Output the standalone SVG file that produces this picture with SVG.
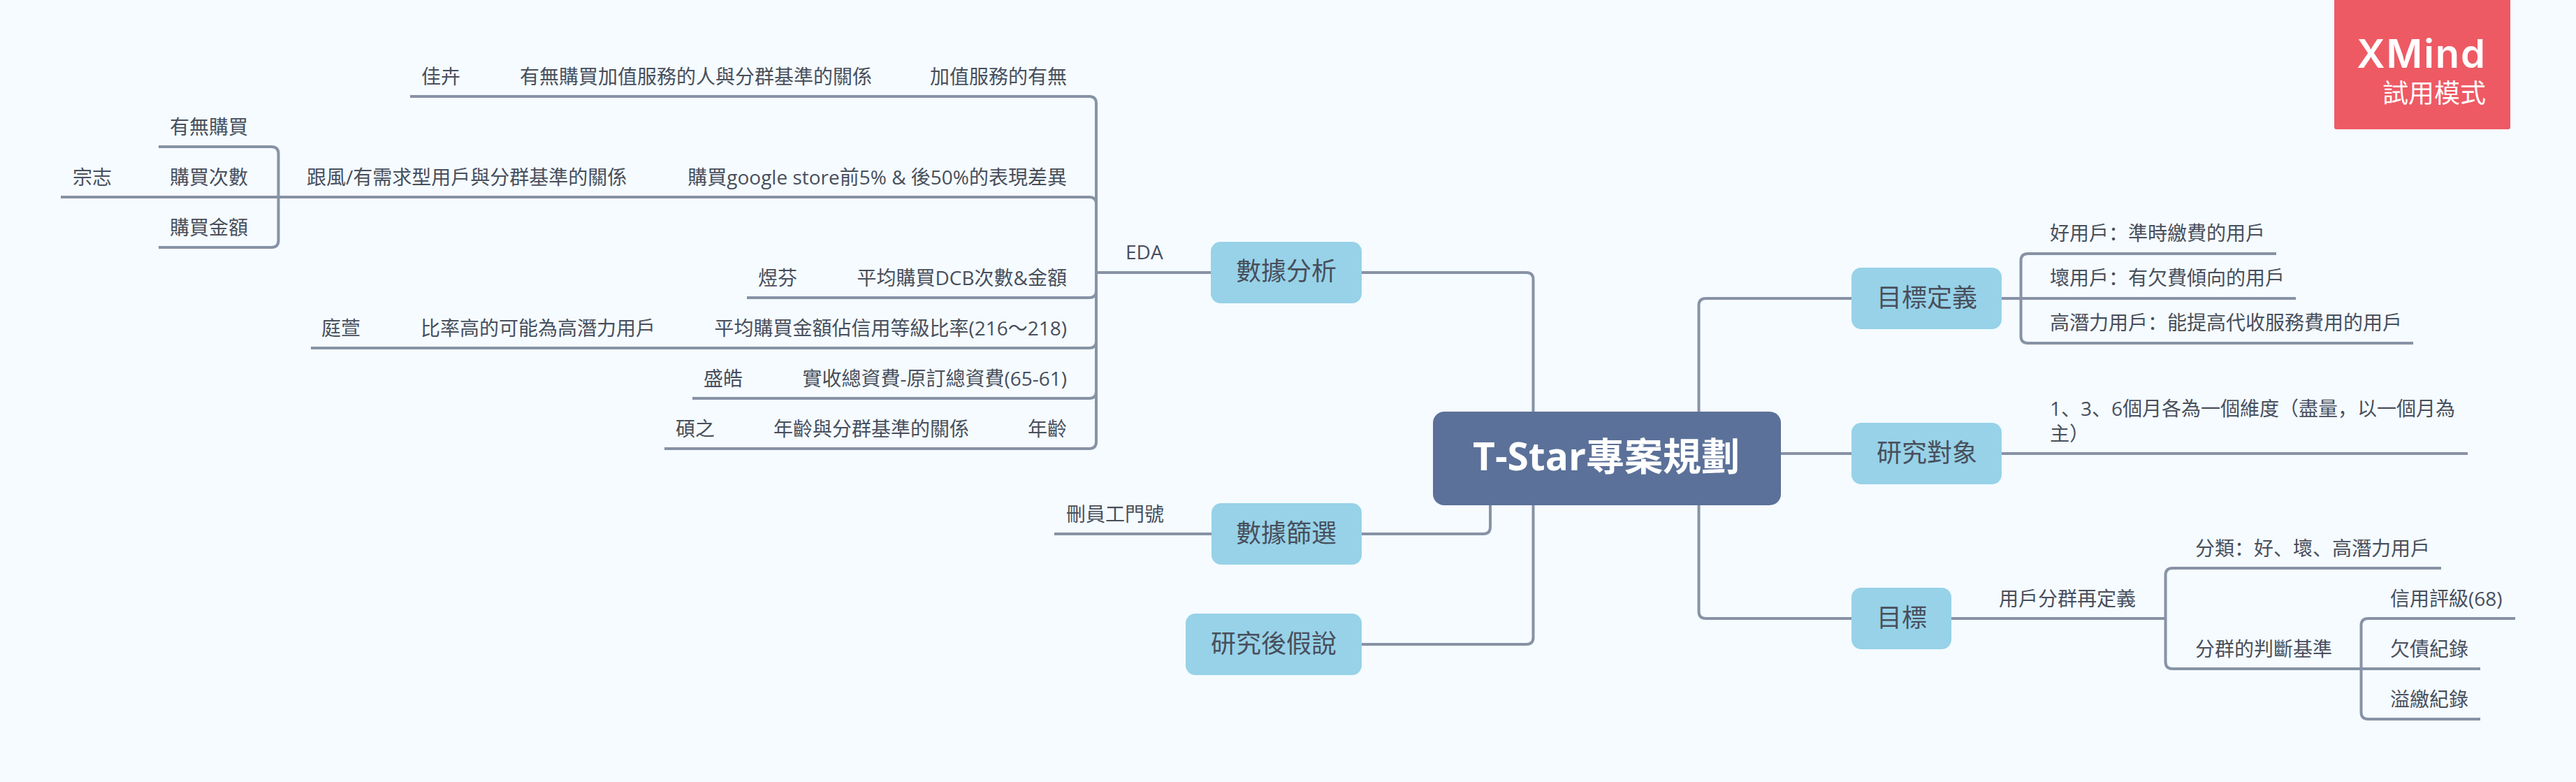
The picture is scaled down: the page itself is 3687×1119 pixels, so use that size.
<svg xmlns="http://www.w3.org/2000/svg" width="3687" height="1119" viewBox="0 0 3687 1119">
<style>
text{font-family:"Open Sans","Noto Sans CJK SC","Noto Sans CJK TC",sans-serif;fill:#484f5c}
.t{font-size:28px}
.m{font-size:36px}
.r{font-size:55px;font-weight:700;fill:#fff}
.e{text-anchor:end}
.box{fill:#97d2e8}
#connectors path{fill:none;stroke:#8792a5;stroke-width:4}
</style>
<rect id="background" width="3687" height="1119" fill="#f5fbff"/>
<g id="connectors">
<path d="M2194.5 589V400Q2194.5 390 2184.5 390H1949"/>
<path d="M2133 723V754Q2133 764 2123 764H1949"/>
<path d="M2194.5 723V912Q2194.5 922 2184.5 922H1949"/>
<path d="M1734 764H1509"/>
<path d="M1733 390H1569"/>
<path d="M1569 390V148Q1569 138 1559 138H587"/>
<path d="M1569 390V292Q1569 282 1559 282H87"/>
<path d="M1569 390V416Q1569 426 1559 426H1069"/>
<path d="M1569 390V488Q1569 498 1559 498H445"/>
<path d="M1569 390V560Q1569 570 1559 570H991"/>
<path d="M1569 390V632Q1569 642 1559 642H951"/>
<path d="M398.500 282V220Q398.500 210 388.500 210H227"/>
<path d="M398.500 282V344Q398.500 354 388.500 354H227"/>
<path d="M2431.500 589V437Q2431.500 427 2441.500 427H2650"/>
<path d="M2549 649H2650"/>
<path d="M2431.500 723V875Q2431.500 885 2441.500 885H2650"/>
<path d="M2865 427H3286"/>
<path d="M2892.500 427V373Q2892.500 363 2902.500 363H3258"/>
<path d="M2892.500 427V481Q2892.500 491 2902.500 491H3454"/>
<path d="M2865 649H3532"/>
<path d="M2793 885H3099.500"/>
<path d="M3099.500 885V823Q3099.500 813 3109.500 813H3494"/>
<path d="M3099.500 885V947Q3099.500 957 3109.500 957H3550"/>
<path d="M3379.500 957V895Q3379.500 885 3389.500 885H3600"/>
<path d="M3379.500 957V1019Q3379.500 1029 3389.500 1029H3550"/>
</g>
<g id="root"><rect x="2051" y="589" width="498" height="134" rx="16" fill="#5b7199"/><text class="r" x="2299" y="673" text-anchor="middle">T-Star專案規劃</text></g>
<g id="n-analysis"><rect class="box" x="1733" y="346" width="216" height="88" rx="14"/><text class="m" x="1841" y="401" text-anchor="middle">數據分析</text></g>
<g id="n-filter"><rect class="box" x="1734" y="720" width="215" height="88" rx="14"/><text class="m" x="1841" y="776" text-anchor="middle">數據篩選</text></g>
<g id="n-hypothesis"><rect class="box" x="1697" y="878" width="252" height="88" rx="14"/><text class="m" x="1823" y="934" text-anchor="middle">研究後假說</text></g>
<g id="n-target-def"><rect class="box" x="2650" y="383" width="215" height="88" rx="14"/><text class="m" x="2758" y="439" text-anchor="middle">目標定義</text></g>
<g id="n-subject"><rect class="box" x="2650" y="605" width="215" height="88" rx="14"/><text class="m" x="2758" y="661" text-anchor="middle">研究對象</text></g>
<g id="n-goal"><rect class="box" x="2650" y="841" width="143" height="88" rx="14"/><text class="m" x="2722" y="897" text-anchor="middle">目標</text></g>
<g id="t-eda"><text class="t" x="1611" y="371">EDA</text></g>
<g id="t-jiahui"><text class="t" x="603" y="120">佳卉</text></g>
<g id="t-addon-rel"><text class="t" x="744" y="120">有無購買加值服務的人與分群基準的關係</text></g>
<g id="t-addon"><text class="t e" x="1527" y="120">加值服務的有無</text></g>
<g id="t-has"><text class="t" x="243" y="192">有無購買</text></g>
<g id="t-count"><text class="t" x="243" y="264">購買次數</text></g>
<g id="t-amount"><text class="t" x="243" y="336">購買金額</text></g>
<g id="t-zongzhi"><text class="t" x="104" y="264">宗志</text></g>
<g id="t-follow"><text class="t" x="439" y="264">跟風/有需求型用戶與分群基準的關係</text></g>
<g id="t-google"><text class="t e" x="1527" y="264">購買google store前5% &amp; 後50%的表現差異</text></g>
<g id="t-yufen"><text class="t" x="1085" y="408">煜芬</text></g>
<g id="t-dcb"><text class="t e" x="1527" y="408">平均購買DCB次數&amp;金額</text></g>
<g id="t-tingxuan"><text class="t" x="460" y="480">庭萱</text></g>
<g id="t-ratio"><text class="t" x="602" y="480">比率高的可能為高潛力用戶</text></g>
<g id="t-credit"><text class="t e" x="1527" y="480">平均購買金額佔信用等級比率(216～218)</text></g>
<g id="t-shenghao"><text class="t" x="1007" y="552">盛皓</text></g>
<g id="t-fee"><text class="t e" x="1527" y="552">實收總資費-原訂總資費(65-61)</text></g>
<g id="t-shuozhi"><text class="t" x="967" y="624">碩之</text></g>
<g id="t-age-rel"><text class="t" x="1107" y="624">年齡與分群基準的關係</text></g>
<g id="t-age"><text class="t e" x="1527" y="624">年齡</text></g>
<g id="t-staff"><text class="t" x="1526" y="746">刪員工門號</text></g>
<g id="t-good"><text class="t" x="2934" y="344">好用戶：準時繳費的用戶</text></g>
<g id="t-bad"><text class="t" x="2934" y="408">壞用戶：有欠費傾向的用戶</text></g>
<g id="t-potential"><text class="t" x="2934" y="472">高潛力用戶：能提高代收服務費用的用戶</text></g>
<g id="t-dimension"><text class="t" x="2934" y="595">1、3、6個月各為一個維度（盡量，以一個月為</text><text class="t" x="2934" y="631">主）</text></g>
<g id="t-redefine"><text class="t" x="2861" y="867">用戶分群再定義</text></g>
<g id="t-classify"><text class="t" x="3142" y="795">分類：好、壞、高潛力用戶</text></g>
<g id="t-criteria"><text class="t" x="3142" y="939">分群的判斷基準</text></g>
<g id="t-rating"><text class="t" x="3421" y="867">信用評級(68)</text></g>
<g id="t-debt"><text class="t" x="3421" y="939">欠債紀錄</text></g>
<g id="t-overpay"><text class="t" x="3421" y="1011">溢繳紀錄</text></g>
<g id="badge"><rect x="3341" y="-4" width="252" height="189" rx="3" fill="#ee5a64"/><text x="3559" y="97" text-anchor="end" style="fill:#fff;font-family:Inter,sans-serif;font-size:56px;font-weight:600;letter-spacing:2px">XMind</text><text x="3558" y="147" text-anchor="end" style="fill:#fff;font-size:37px">試用模式</text></g>
</svg>
